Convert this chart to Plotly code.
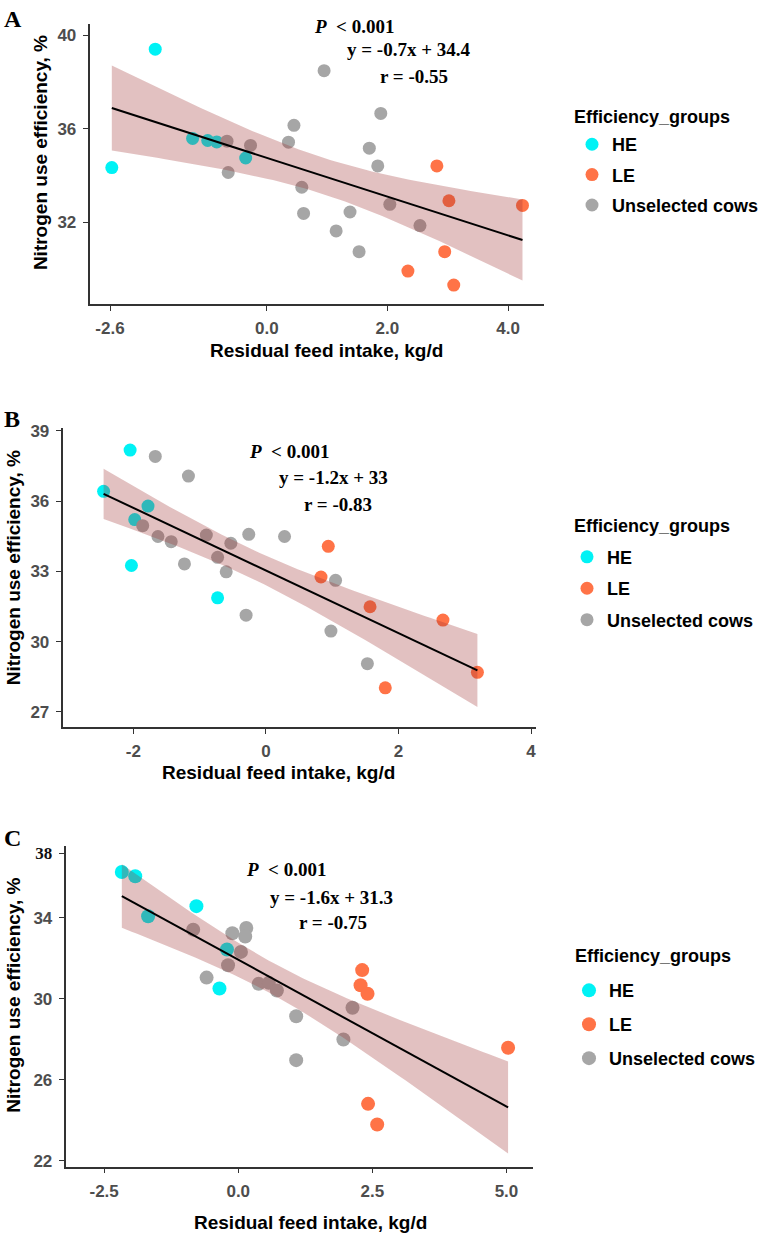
import numpy as np
import plotly.graph_objects as go

W, H = 765, 1239

# ---------------- data ----------------
# Panel A
a_he_x = [-1.85, -2.57, -1.23, -0.98, -0.83, -0.35]
a_he_y = [39.40, 34.33, 35.58, 35.49, 35.43, 34.74]
a_le_x = [2.82, 3.02, 4.24, 2.95, 2.34, 3.10]
a_le_y = [34.40, 32.91, 32.71, 30.73, 29.90, 29.30]
a_un_x = [-0.66, -0.27, -0.64, 0.95, 0.45, 0.36, 0.58, 0.61, 1.15, 1.38, 1.53, 1.70, 1.84, 1.89, 2.04, 2.54]
a_un_y = [35.46, 35.28, 34.12, 38.48, 36.14, 35.42, 33.49, 32.37, 31.62, 32.43, 30.73, 35.16, 34.40, 36.65, 32.76, 31.85]

# Panel B
b_he_x = [-2.05, -2.45, -1.78, -1.98, -2.03, -0.73]
b_he_y = [38.18, 36.42, 35.79, 35.21, 33.25, 31.87]
b_le_x = [0.94, 0.83, 1.57, 2.67, 1.80, 3.19]
b_le_y = [34.07, 32.76, 31.49, 30.92, 28.03, 28.69]
b_un_x = [-1.67, -1.17, -1.86, -1.63, -1.43, -1.23, -0.90, -0.53, -0.73, -0.60, -0.26, -0.30, 0.28, 1.05, 0.98, 1.53]
b_un_y = [37.91, 37.07, 34.95, 34.49, 34.27, 33.32, 34.55, 34.20, 33.60, 32.98, 34.58, 31.13, 34.49, 32.62, 30.45, 29.06]

# Panel C
c_he_x = [-2.17, -1.92, -1.68, -0.78, -0.21, -0.35]
c_he_y = [36.27, 36.06, 34.08, 34.58, 32.44, 30.51]
c_le_x = [2.31, 2.28, 2.41, 5.03, 2.42, 2.59]
c_le_y = [31.42, 30.67, 30.25, 27.58, 24.81, 23.79]
c_un_x = [-0.84, -0.11, 0.15, 0.13, 0.05, -0.19, -0.59, 0.38, 0.57, 0.72, 1.08, 1.08, 1.96, 2.13]
c_un_y = [33.42, 33.24, 33.50, 33.08, 32.32, 31.66, 31.05, 30.74, 30.79, 30.41, 29.14, 26.97, 27.99, 29.56]

group_names = ["HE", "LE", "Unselected cows"]
legend_title = "Efficiency_groups"
stats_a = ["<i>P</i>&nbsp; &lt; 0.001", "y = -0.7x + 34.4", "r = -0.55"]
stats_b = ["<i>P</i>&nbsp; &lt; 0.001", "y = -1.2x + 33", "r = -0.83"]
stats_c = ["<i>P</i>&nbsp; &lt; 0.001", "y = -1.6x + 31.3", "r = -0.75"]

a_xticks = [-2.6, 0.0, 2.0, 4.0]
a_xtext = ["-2.6", "0.0", "2.0", "4.0"]
a_yticks = [32, 36, 40]
b_xticks = [-2, 0, 2, 4]
b_xtext = ["-2", "0", "2", "4"]
b_yticks = [27, 30, 33, 36, 39]
c_xticks = [-2.5, 0.0, 2.5, 5.0]
c_xtext = ["-2.5", "0.0", "2.5", "5.0"]
c_yticks = [22, 26, 30, 34, 37.19]
c_ytext = ["22", "26", "30", "34",
           "<span style='font-family:Liberation Serif;color:#111111'>38</span>"]

# ---------------- style ----------------
COL = {"HE": "#00F2F5", "LE": "#FF7347", "Unselected cows": "#A6A6A6"}
RIBBON = "rgba(160,50,50,0.30)"
SANS = "Liberation Sans"
SERIF = "Liberation Serif"
T_CRIT = 2.06


def px(xp):
    return xp / W


def py(yp):
    return 1 - yp / H


def fit_band(xs, ys):
    x = np.asarray(xs, float)
    y = np.asarray(ys, float)
    n = len(x)
    b1, b0 = np.polyfit(x, y, 1)
    resid = y - (b0 + b1 * x)
    s = np.sqrt(np.sum(resid ** 2) / (n - 2))
    sxx = np.sum((x - x.mean()) ** 2)
    grid = np.linspace(x.min(), x.max(), 80)
    yhat = b0 + b1 * grid
    se = s * np.sqrt(1 / n + (grid - x.mean()) ** 2 / sxx)
    return grid, yhat, yhat - T_CRIT * se, yhat + T_CRIT * se


fig = go.Figure()

panels = [
    dict(key="A", ax="", leg="legend",
         data=[(a_he_x, a_he_y), (a_le_x, a_le_y), (a_un_x, a_un_y)], msize=13),
    dict(key="B", ax="2", leg="legend2",
         data=[(b_he_x, b_he_y), (b_le_x, b_le_y), (b_un_x, b_un_y)], msize=13),
    dict(key="C", ax="3", leg="legend3",
         data=[(c_he_x, c_he_y), (c_le_x, c_le_y), (c_un_x, c_un_y)], msize=14),
]

for p in panels:
    xa, ya = "x" + p["ax"], "y" + p["ax"]
    allx, ally = [], []
    for name, (xs, ys) in zip(group_names, p["data"]):
        allx += xs
        ally += ys
        fig.add_trace(go.Scatter(
            x=xs, y=ys, mode="markers", name=name,
            marker=dict(color=COL[name], size=p["msize"], line=dict(width=0)),
            xaxis=xa, yaxis=ya, legend=p["leg"],
            legendgroup=p["key"] + name, showlegend=True))
    g, yh, lo, hi = fit_band(allx, ally)
    fig.add_trace(go.Scatter(
        x=np.concatenate([g, g[::-1]]), y=np.concatenate([hi, lo[::-1]]),
        fill="toself", fillcolor=RIBBON, line=dict(width=0),
        mode="lines", hoverinfo="skip", showlegend=False, xaxis=xa, yaxis=ya))
    fig.add_trace(go.Scatter(
        x=g, y=yh, mode="lines", line=dict(color="black", width=2),
        showlegend=False, xaxis=xa, yaxis=ya))

tickfont = dict(family=SANS, size=17, color="#4D4D4D", weight="bold")
axis_common = dict(showline=True, linecolor="#333333", linewidth=1.6, mirror=False,
                   ticks="outside", ticklen=5, tickwidth=1.4, tickcolor="#333333",
                   showgrid=False, zeroline=False, tickfont=tickfont,
                   ticklabelstandoff=3)

fig.update_layout(
    width=W, height=H, margin=dict(l=0, r=0, t=0, b=0),
    paper_bgcolor="white", plot_bgcolor="white",
    xaxis=dict(domain=[px(89.5), px(543.6)], range=[-2.94, 4.59], anchor="y",
               tickvals=a_xticks, ticktext=a_xtext, **axis_common),
    yaxis=dict(domain=[py(300.7), py(18.3)], range=[28.48, 40.47], anchor="x",
               tickvals=a_yticks, **axis_common),
    xaxis2=dict(domain=[px(62.5), px(536.4)], range=[-3.07, 4.08], anchor="y2",
                tickvals=b_xticks, ticktext=b_xtext, **axis_common),
    yaxis2=dict(domain=[py(727.0), py(425.0)], range=[26.35, 39.14], anchor="x2",
                tickvals=b_yticks, **axis_common),
    xaxis3=dict(domain=[px(65.5), px(533.3)], range=[-3.22, 5.50], anchor="y3",
                tickvals=c_xticks, ticktext=c_xtext, **axis_common),
    yaxis3=dict(domain=[py(1170.0), py(846.7)], range=[21.71, 37.56], anchor="x3",
                tickvals=c_yticks, ticktext=c_ytext, **axis_common),
    showlegend=True,
)

leg_font = dict(family=SANS, size=18, color="black", weight="bold")
leg_common = dict(xanchor="left", yanchor="top", bgcolor="rgba(0,0,0,0)",
                  font=leg_font, itemclick=False, itemdoubleclick=False)
# (legend top, gap between items, title centre) per panel
leg_geo = [(121, 4, 112), (537, 5, 524), (974, 7.5, 957.3)]
fig.update_layout(
    legend=dict(x=px(572), y=py(leg_geo[0][0]), tracegroupgap=leg_geo[0][1], **leg_common),
    legend2=dict(x=px(567), y=py(leg_geo[1][0]), tracegroupgap=leg_geo[1][1], **leg_common),
    legend3=dict(x=px(569), y=py(leg_geo[2][0]), tracegroupgap=leg_geo[2][1], **leg_common),
)

ann = []
# legend titles
for (top, gap, ty), tx in zip(leg_geo, [572, 571.7, 572.7]):
    ann.append(dict(text="<b>%s</b>" % legend_title, x=px(tx), y=py(ty), xref="paper",
                    yref="paper", showarrow=False, xanchor="left", yanchor="middle",
                    font=dict(family=SANS, size=18, color="black")))
# panel letters
for letter, (lx, ly) in zip(["A", "B", "C"], [(13, 13.5), (12, 416.7), (12.4, 839)]):
    ann.append(dict(text="<b>%s</b>" % letter, x=px(lx), y=py(ly), xref="paper", yref="paper",
                    showarrow=False, xanchor="center", yanchor="middle",
                    font=dict(family=SERIF, size=24, color="black")))
# stats text
stat_pos = [
    (stats_a, [(311.6, 20.7), (345.4, 44.3), (377.8, 70.7)]),
    (stats_b, [(247.2, 449.3), (277.2, 475.0), (302.3, 502.7)]),
    (stats_c, [(243.9, 871.0), (267.9, 898.3), (297.1, 924.0)]),
]
for texts, poss in stat_pos:
    for t, (sx, sy) in zip(texts, poss):
        ann.append(dict(text="<b>%s</b>" % t, x=px(sx), y=py(sy), xref="paper", yref="paper",
                        showarrow=False, xanchor="left", yanchor="middle",
                        font=dict(family=SERIF, size=19, color="black")))
# axis titles
xtitle = "Residual feed intake, kg/d"
ytitle = "Nitrogen use efficiency, %"
for (xx, xy), (yx, yy) in [((326, 347.5), (41.3, 148.0)),
                           ((278.6, 773.0), (13.8, 566.0)),
                           ((310.8, 1226.0), (13.2, 997.5))]:
    ann.append(dict(text="<b>%s</b>" % xtitle, x=px(xx), y=py(xy), xref="paper", yref="paper",
                    showarrow=False, xanchor="center", yanchor="middle",
                    font=dict(family=SANS, size=19, color="black")))
    ann.append(dict(text="<b>%s</b>" % ytitle, x=px(yx), y=py(yy), xref="paper", yref="paper",
                    showarrow=False, xanchor="center", yanchor="middle", textangle=-90,
                    font=dict(family=SANS, size=19, color="black")))
fig.update_layout(annotations=ann)

fig.write_html("out.html")
